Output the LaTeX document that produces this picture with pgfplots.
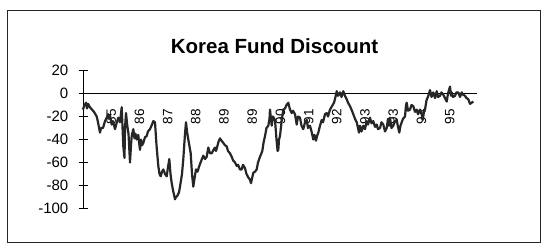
\documentclass[border=0pt]{standalone}
\usepackage{pgfplots}
\pgfplotsset{compat=1.18}
\usepackage{fontspec}
\setmainfont{Liberation Sans}
\begin{document}
\begin{tikzpicture}
\useasboundingbox (0,0) rectangle (541bp,-243bp);
\draw[line width=0.9bp, black!85] (7bp,-10bp) rectangle (540bp,-242bp);
\node[font=\fontsize{20.5bp}{24bp}\selectfont\bfseries] at (274.5bp,-45.7bp) {Korea Fund Discount};
\begin{axis}[
  at={(83bp,-208.5bp)}, anchor=south west,
  scale only axis, width=394bp, height=138bp,
  xmin=83, xmax=477, ymin=-100, ymax=20,
  axis x line=middle, axis y line=left,
  axis line style={-, line width=0.8bp, black},
  xtick={83,111.2,139.4,167.6,195.8,224,252.2,280.4,308.6,336.8,365,393.2,421.4,449.6},
  xticklabels={85,85,86,87,88,89,89,90,91,92,93,93,94,95},
  xtick style={draw=none},
  xticklabel style={rotate=90, anchor=east, inner sep=0pt, font=\fontsize{13.5bp}{15bp}\selectfont, xshift=-11bp},
  ytick={-100,-80,-60,-40,-20,0,20},
  yticklabels={-100,-80,-60,-40,-20,0,20},
  ytick align=center, major tick length=9bp,
  ytick style={line width=0.8bp, black},
  yticklabel style={anchor=east, inner sep=0pt, font=\fontsize{15bp}{17bp}\selectfont, xshift=-10bp},
  clip=false,
]
\addplot[line width=2.2bp, black!85, line join=round] coordinates {
(83,-14) (84,-11) (86,-8) (87,-13) (88,-9) (90,-12) (92,-14) (94,-16) (96.7,-20) (98,-25)
(100,-34) (101,-30) (103,-30) (105,-24) (106.7,-21) (108,-18) (109,-22) (110,-19) (111.7,-27) (113,-24)
(115,-31) (116.5,-26) (118.3,-21) (120,-25) (121.7,-12) (123.3,-46) (124.5,-56) (125,-30) (126,-17) (127.3,-28)
(128.5,-35) (130,-60) (131,-45) (131.7,-37) (133.3,-31) (134.5,-39) (135.5,-35) (136.7,-40) (138.3,-36) (139,-42)
(140,-49) (141,-40) (142,-45) (143.3,-43) (145,-38) (146.7,-37) (148,-33) (150,-31) (152,-27) (153.3,-24)
(155,-25) (156.5,-45) (158.3,-63) (159.5,-70) (160.7,-72) (162,-68) (163.3,-66) (165,-70) (166.7,-72) (168,-64)
(169.3,-57) (170.5,-70) (171.7,-78) (173,-84) (175,-92) (176,-90) (177.3,-89) (179,-86) (180,-81) (182,-70)
(183.3,-57) (185,-35) (186,-25) (187,-33) (188.3,-40) (189.5,-46) (190.7,-52) (192,-70) (193.3,-81) (194.5,-74)
(196,-66) (197.5,-68) (199.3,-63) (201,-59) (203.3,-54) (205,-57) (206.7,-55) (208.3,-47) (210,-52) (211.7,-52)
(213.5,-49) (215,-47) (216,-50) (217.3,-46) (218.5,-42) (220,-39) (221.5,-41) (223.3,-43) (225,-45) (226.7,-46)
(228,-50) (230,-52) (231.7,-55) (233,-58) (235,-60) (236.7,-63) (238,-62) (240,-66) (241.7,-66) (243,-62)
(245,-65) (246.5,-70) (248.3,-73) (250,-75) (251,-78) (252,-74) (253.3,-69) (255,-68) (256.7,-66) (258,-60)
(260,-55) (261,-53) (262.3,-50) (263.5,-43) (265,-37) (266.5,-30) (268.3,-28) (269.5,-22) (270,-14) (271.7,-28)
(273,-20) (275,-23) (276.5,-40) (277.6,-50) (278.3,-49) (279,-40) (280,-37) (281.5,-25) (283.3,-14) (285,-13)
(286.5,-10) (288.3,-8) (290,-14) (291.7,-17) (293,-15) (295,-18) (296.7,-27) (298,-20) (300,-21) (301.5,-28)
(303.3,-31) (305,-25) (306.7,-23) (308,-30) (310,-28) (311.5,-33) (313.3,-40) (314.5,-36) (316,-41) (317,-37)
(318.3,-34) (320,-28) (321.7,-23) (323,-25) (325,-18) (326.7,-17) (328,-20) (330,-14) (332,-11) (334,-8)
(335.5,-3) (336.7,2) (338,-2) (340,1) (341.5,-3) (343.3,2) (345,-2) (346.7,-5) (348,-8) (350,-11)
(351.5,-14) (353.3,-18) (355,-22) (356.7,-25) (358,-30) (359,-34) (360,-28) (361.5,-33) (363.3,-28) (365,-31)
(366.7,-24) (368,-27) (370,-21) (371.5,-26) (373.3,-24) (375,-29) (376.7,-27) (378,-31) (380,-30) (381.5,-25)
(383.3,-27) (385,-33) (386.7,-30) (388,-22) (389,-28) (390,-21) (391.5,-30) (393.3,-28) (395,-24) (396.7,-23)
(398,-29) (399.3,-34) (400.5,-28) (401.7,-25) (403,-22) (405,-20) (406,-10) (406.7,-8) (408,-15) (410,-14)
(411.5,-10) (413.3,-11) (415,-16) (416.7,-14) (418,-18) (420,-14) (421.5,-17) (422.7,-23) (424,-16) (425,-14)
(426.5,-6) (428.3,-2) (430,3) (431.5,-3) (433.3,1) (435,-4) (436.7,2) (438,-3) (440,-2) (441.5,1)
(443.3,-1) (445,-4) (446.7,-7) (448,0) (450,6) (451,-2) (451.7,1) (453,-3) (455,-2) (456.5,1)
(458.3,1) (460,-3) (461.7,1) (463,-1) (465,-2) (466.5,-4) (468.3,-5) (470,-9) (471.7,-8) (473.3,-7)
};
\end{axis}
\end{tikzpicture}
\end{document}
